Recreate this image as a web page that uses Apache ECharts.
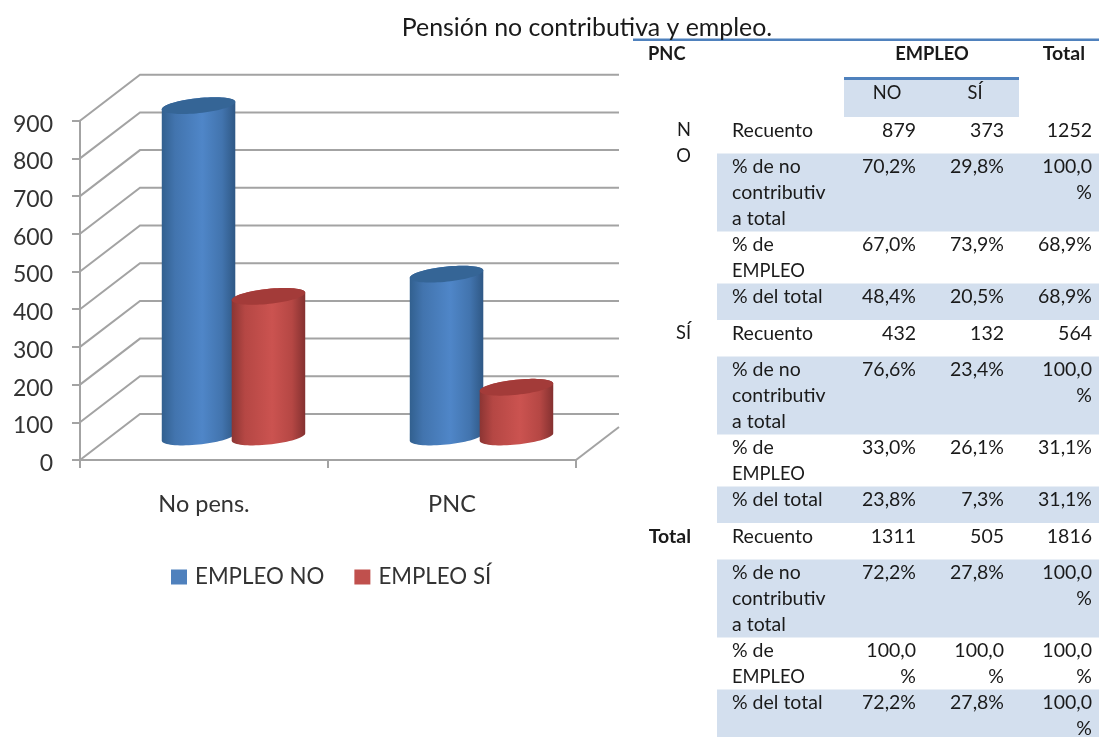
<!DOCTYPE html>
<html><head><meta charset="utf-8">
<style>html,body{margin:0;padding:0;background:#fff;overflow:hidden}#c{width:1099px;height:737px}</style>
<script src="https://cdn.jsdelivr.net/npm/echarts@6/dist/echarts.min.js"></script>
</head><body><div id="c"></div>
<script>
const chartTitle = 'Pensión no contributiva y empleo.';
const categories = ['No pens.', 'PNC'];
const empleoNo = [879, 432];
const empleoSi = [373, 132];
const axisValues = [0, 100, 200, 300, 400, 500, 600, 700, 800, 900];

const headPNC = 'PNC', headEmpleo = 'EMPLEO', headTotal = 'Total', headNo = 'NO', headSi = 'SÍ';
const groupLabels = ['N\nO', 'SÍ', 'Total'];
const rowLabels = ['Recuento', '% de no\ncontributiv\na total', '% de\nEMPLEO', '% del total'];
const colNo = ['879','70,2%','67,0%','48,4%','432','76,6%','33,0%','23,8%','1311','72,2%','100,0\n%','72,2%'];
const colSi = ['373','29,8%','73,9%','20,5%','132','23,4%','26,1%','7,3%','505','27,8%','100,0\n%','27,8%'];
const colTotal = ['1252','100,0\n%','68,9%','68,9%','564','100,0\n%','31,1%','31,1%','1816','100,0\n%','100,0\n%','100,0\n%'];

const FONT = 'Lato';
const DEPTH_X = 60, DEPTH_Y = -46, BACK_RIGHT = 619;
const LINE = '#a3a3a3', INK = '#1a1a1a', BAND = '#d3dfee', RULE = '#4f81bd';

function wallItem(params, api) {
  const cs = params.coordSys;
  const y = api.coord([0, api.value(0)])[1];
  const x0 = cs.x;
  const style = { stroke: LINE, lineWidth: 2, fill: null };
  const children = [
    { type: 'polyline', shape: { points: [[x0, y], [x0 + DEPTH_X, y + DEPTH_Y], [BACK_RIGHT, y + DEPTH_Y]] }, style: style, silent: true }
  ];
  if (api.value(0) === 0) {
    const xr = cs.x + cs.width, t = (BACK_RIGHT - xr) / DEPTH_X;
    children.push({ type: 'line', shape: { x1: xr, y1: y, x2: BACK_RIGHT, y2: y + DEPTH_Y * t }, style: style, silent: true });
  }
  return { type: 'group', children: children };
}

function ellipsePoints(cx, cy, a, b, th, t0, t1, n) {
  const pts = [];
  for (let i = 0; i <= n; i++) {
    const t = t0 + (t1 - t0) * i / n;
    pts.push([cx + a * Math.cos(t) * Math.cos(th) - b * Math.sin(t) * Math.sin(th),
              cy + a * Math.cos(t) * Math.sin(th) + b * Math.sin(t) * Math.cos(th)]);
  }
  return pts;
}

function cylinder(side, shades) {
  return function (params, api) {
    const band = api.size([1, 0])[0];
    const top = api.coord([api.value(0), api.value(1)]);
    const base = api.coord([api.value(0), 0]);
    const cx = top[0] + side * band * 0.141 + DEPTH_X / 2 - 0.5;
    const a = band * 0.149, b = 7.5, th = -6 * Math.PI / 180;
    const yTop = top[1] + DEPTH_Y / 2, yBase = base[1] + DEPTH_Y / 2;
    const t0 = Math.atan2(-b * Math.sin(th), a * Math.cos(th));
    // lower arc runs from the right extreme to the left extreme
    const lower = ellipsePoints(cx, yBase, a, b, th, t0, t0 + Math.PI, 36);
    const upper = ellipsePoints(cx, yTop, a, b, th, t0 + Math.PI, t0 + 2 * Math.PI, 36);
    const body = lower.concat(upper);
    const cap = ellipsePoints(cx, yTop, a, b, th, 0, 2 * Math.PI, 72);
    return {
      type: 'group',
      children: [
        { type: 'polygon', shape: { points: body }, style: { fill: new echarts.graphic.LinearGradient(0, 0, 1, 0, [
            { offset: 0, color: shades.edgeL }, { offset: 0.18, color: shades.mid }, { offset: 0.55, color: shades.light },
            { offset: 0.82, color: shades.mid }, { offset: 1, color: shades.edgeR }]) } },
        { type: 'polygon', shape: { points: cap }, style: { fill: shades.cap } }
      ]
    };
  };
}

const blue = { edgeL: '#32608f', mid: '#4274ae', light: '#4f86c8', edgeR: '#2f5885', cap: '#356596' };
const red  = { edgeL: '#8c3533', mid: '#b54744', light: '#cb5350', edgeR: '#843130', cap: '#a33b39' };

function txt(text, x, y, align, bold) {
  const size = /^[A-ZÍ]+$/.test(text) ? 18.3 : 19.5;
  return { type: 'text', silent: true, z: 10, style: { text: text, x: x, y: y, align: align, verticalAlign: 'middle',
    textAlign: align, textVerticalAlign: 'middle',
    font: (bold ? 'bold ' : '') + size + 'px ' + FONT, fill: INK } };
}
function multi(out, s, x, y, align, bold) {
  s.split('\n').forEach((l, i) => out.push(txt(l, x, y + i * 26, align, bold)));
}
function box(x, y, w, h, fill) {
  return { type: 'rect', silent: true, z: 5, shape: { x: x, y: y, width: w, height: h }, style: { fill: fill } };
}

function tableElements() {
  const out = [];
  out.push(box(633, 38.5, 466, 2.6, RULE));
  out.push(box(844, 77, 175, 3, RULE));
  out.push(box(844, 80, 175, 37, BAND));
  out.push(txt(headPNC, 648, 54, 'left', true));
  out.push(txt(headEmpleo, 932, 54, 'center', true));
  out.push(txt(headTotal, 1085, 54, 'right', true));
  out.push(txt(headNo, 887, 93, 'center'));
  out.push(txt(headSi, 975, 93, 'center'));
  let top = 117;
  colNo.forEach((_, i) => {
    const kind = i % 4, label = rowLabels[kind];
    const lines = Math.max(label.split('\n').length, colNo[i].split('\n').length, colSi[i].split('\n').length, colTotal[i].split('\n').length);
    const h = Math.max(36.5, lines * 26);
    if (kind === 1 || kind === 3) out.push(box(717, top, 382, h, BAND));
    const y = top + 13.5;
    if (kind === 0) multi(out, groupLabels[i / 4], 691, y, 'right', i === 8);
    multi(out, label, 732, y, 'left');
    multi(out, colNo[i], 916, y, 'right');
    multi(out, colSi[i], 1004, y, 'right');
    multi(out, colTotal[i], 1092, y, 'right');
    top += h;
  });
  return out;
}

const chart = echarts.init(document.getElementById('c'), null, { renderer: 'canvas' });
chart.setOption({
  animation: false,
  backgroundColor: '#fff',
  title: { text: chartTitle, left: 582, top: 10, textAlign: 'center',
    textStyle: { fontFamily: FONT, fontWeight: 'normal', fontSize: 24.9, color: INK } },
  legend: { left: 166, top: 561, icon: 'rect', itemWidth: 16, itemHeight: 15, itemGap: 30,
    data: ['EMPLEO NO', 'EMPLEO SÍ'], selectedMode: false,
    textStyle: { fontFamily: FONT, fontSize: 22.3, color: '#333', padding: [0, 0, 0, 3] } },
  grid: { left: 80, top: 120.7, width: 496, height: 339.3 },
  xAxis: { type: 'category', data: categories,
    axisLine: { lineStyle: { color: LINE, width: 2 } },
    axisTick: { show: true, length: 8, alignWithLabel: false, lineStyle: { color: LINE, width: 2 } },
    axisLabel: { fontFamily: FONT, fontSize: 23.5, color: '#333', margin: 32 },
    splitLine: { show: false } },
  yAxis: { type: 'value', min: 0, max: 900, interval: 100,
    axisLine: { show: true, lineStyle: { color: LINE, width: 2 } },
    axisTick: { show: true, length: 8, lineStyle: { color: LINE, width: 2 } },
    axisLabel: { margin: 27, formatter: '{t|{value}}',
      rich: { t: { fontFamily: FONT, fontSize: 23, color: '#333', padding: [7, 0, 0, 0] } } },
    splitLine: { show: false } },
  series: [
    { type: 'custom', name: 'walls', silent: true, clip: false, z: 1,
      data: axisValues.map(v => [v]), encode: { y: 0 }, renderItem: wallItem },
    { type: 'custom', name: 'EMPLEO NO', clip: false, z: 2, itemStyle: { color: '#4f81bd' },
      data: empleoNo.map((v, i) => [i, v]), encode: { x: 0, y: 1 }, renderItem: cylinder(-1, blue) },
    { type: 'custom', name: 'EMPLEO SÍ', clip: false, z: 3, itemStyle: { color: '#c0504d' },
      data: empleoSi.map((v, i) => [i, v]), encode: { x: 0, y: 1 }, renderItem: cylinder(1, red) }
  ],
  graphic: { elements: tableElements() }
});
</script></body></html>
